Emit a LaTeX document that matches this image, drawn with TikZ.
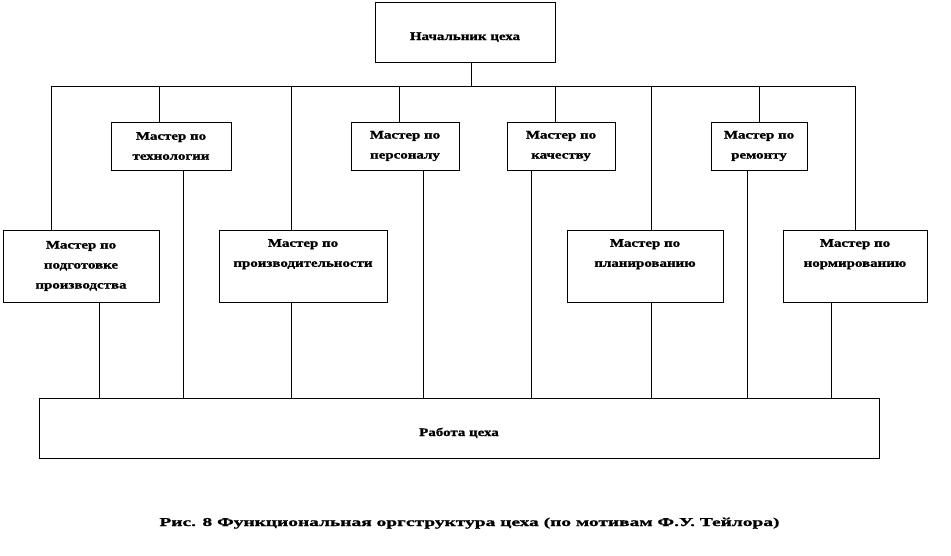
\documentclass[tikz,border=0pt]{standalone}
\usepackage{fontspec}
\setmainfont{Liberation Serif}[FakeStretch=1.3,BoldFeatures={FakeBold=1.2}]
\newfontfamily\capfont{Liberation Serif}[FakeStretch=1.62,BoldFeatures={FakeBold=1.2}]
\begin{document}
\begin{tikzpicture}[x=1pt,y=-1pt,
  box/.style={draw,line width=0.9pt,rectangle,inner sep=0pt,align=center,
    font=\fontsize{11.5}{20}\selectfont\bfseries},
  single/.style={text height=18pt,text depth=2pt},
  link/.style={line width=0.9pt}]
\useasboundingbox (0,0) rectangle (951,555);
% top
\node[box,single,minimum width=180pt,minimum height=60pt] (top) at (465,32) {Начальник цеха};
% masters
\node[box,minimum width=156pt,minimum height=72pt] (m1) at (81,266) {Мастер по\\подготовке\\производства};
\node[box,minimum width=120pt,minimum height=48pt] (m2) at (171,146) {Мастер по\\технологии};
\node[box,minimum width=168pt,minimum height=72pt] (m3) at (303,266) {Мастер по\\производительности\\\strut};
\node[box,minimum width=108pt,minimum height=48pt] (m4) at (405,146) {Мастер по\\персоналу};
\node[box,minimum width=108pt,minimum height=48pt] (m5) at (561,146) {Мастер по\\качеству};
\node[box,minimum width=156pt,minimum height=72pt] (m6) at (645,266) {Мастер по\\планированию\\\strut};
\node[box,minimum width=96pt,minimum height=48pt] (m7) at (759,146) {Мастер по\\ремонту};
\node[box,minimum width=144pt,minimum height=72pt] (m8) at (855,266) {Мастер по\\нормированию\\\strut};
% bottom
\node[box,single,minimum width=840pt,minimum height=60pt] (work) at (459,428) {Работа цеха};
\node[anchor=base,inner sep=0pt,font=\capfont\fontsize{12}{14}\selectfont\bfseries] (cap) at (469.5,526) {Рис. 8 Функциональная оргструктура цеха (по мотивам Ф.У. Тейлора)};
% bus coordinates
\coordinate (bus) at (0,86);
\coordinate (t0) at (471,0);
\foreach \i/\x in {1/51,2/159,3/291,4/399,5/555,6/651,7/759,8/855}{
  \coordinate (j\i) at (\x,86);
}
\foreach \i/\x in {1/99,2/183,3/291,4/423,5/531,6/651,7/747,8/831}{
  \coordinate (d\i) at (\x,0);
}
\draw[link] (t0 |- top.south) -- (t0 |- bus);
\draw[link] (j1) -- (j8);
\foreach \i in {1,...,8}{
  \draw[link] (j\i) -- (j\i |- m\i.north);
  \draw[link] (d\i |- m\i.south) -- (d\i |- work.north);
}
\end{tikzpicture}
\end{document}
